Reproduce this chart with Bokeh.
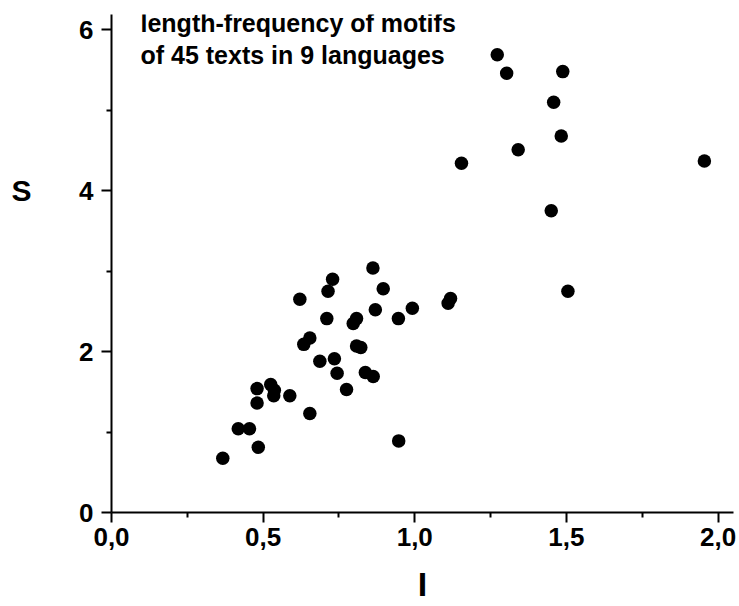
from bokeh.plotting import figure
from bokeh.models import FixedTicker, CustomJSTickFormatter, Label, ColumnDataSource, LinearAxis
from bokeh.embed import file_html
from bokeh.resources import INLINE

# Data (I, S)
I_vals = [0.367, 0.418, 0.455, 0.484, 0.480, 0.480, 0.525, 0.537, 0.535, 0.588,
          0.654, 0.744, 0.775, 0.837, 0.863, 0.947, 0.862, 0.729, 0.714, 0.621,
          0.896, 0.870, 0.992, 0.946, 0.710, 0.808, 0.797, 0.654, 0.634, 0.808,
          0.822, 0.687, 0.735, 1.118, 1.110, 1.272, 1.303, 1.488, 1.458, 1.483,
          1.341, 1.154, 1.450, 1.505, 1.955]
S_vals = [0.675, 1.04, 1.04, 0.81, 1.54, 1.36, 1.59, 1.52, 1.45, 1.45,
          1.23, 1.73, 1.53, 1.74, 1.69, 0.89, 3.04, 2.90, 2.75, 2.65,
          2.78, 2.52, 2.54, 2.41, 2.41, 2.41, 2.35, 2.17, 2.09, 2.07,
          2.05, 1.88, 1.91, 2.66, 2.60, 5.69, 5.46, 5.48, 5.10, 4.68,
          4.51, 4.34, 3.75, 2.75, 4.37]

x_ticks = [0.0, 0.5, 1.0, 1.5, 2.0]
x_minor = [0.25, 0.75, 1.25, 1.75]
y_ticks = [0, 2, 4, 6]
y_minor = [1, 3, 5]
title_lines = ["length-frequency of motifs", "of 45 texts in 9 languages"]
x_title = "I"
y_title = "S"
y_title_level = [4]

FONT = "Liberation Sans"

p = figure(width=739, height=606, output_backend="svg", toolbar_location=None,
           x_range=(0, 2.051), y_range=(0, 6.19),
           min_border_left=111, min_border_right=6, min_border_top=14, min_border_bottom=94)
p.outline_line_color = None
p.xgrid.visible = False
p.ygrid.visible = False
p.background_fill_color = "white"
p.border_fill_color = "white"

src = ColumnDataSource(dict(x=I_vals, y=S_vals))
p.scatter("x", "y", source=src, size=13.5, fill_color="black", line_color="black", line_width=0)

for ax in (p.xaxis[0], p.yaxis[0]):
    ax.axis_line_width = 2
    ax.axis_line_color = "black"
    ax.major_tick_line_width = 2
    ax.minor_tick_line_width = 2
    ax.major_tick_line_color = "black"
    ax.minor_tick_line_color = "black"
    ax.major_tick_out = 10
    ax.major_tick_in = 0
    ax.minor_tick_out = 5
    ax.minor_tick_in = 0
    ax.major_label_text_font = FONT
    ax.major_label_text_font_style = "bold"
    ax.major_label_text_font_size = "26px"
    ax.major_label_text_color = "black"
    ax.axis_label_text_font = FONT
    ax.axis_label_text_font_style = "bold"
    ax.axis_label_text_color = "black"

p.xaxis[0].ticker = FixedTicker(ticks=x_ticks, minor_ticks=x_minor)
p.xaxis[0].formatter = CustomJSTickFormatter(code="return tick.toFixed(1).replace('.', ',');")
p.xaxis[0].major_label_standoff = 5
p.xaxis[0].axis_label = x_title
p.xaxis[0].axis_label_text_font_size = "34px"
p.xaxis[0].axis_label_standoff = 16

p.yaxis[0].ticker = FixedTicker(ticks=y_ticks, minor_ticks=y_minor)
p.yaxis[0].major_label_standoff = 8
p.yaxis[0].major_label_orientation = "horizontal"

# y title sits level with the "4" tick: drawn by a bare extra left axis
s_axis = LinearAxis(ticker=FixedTicker(ticks=y_title_level, minor_ticks=[]),
                    formatter=CustomJSTickFormatter(code="return '%s';" % y_title),
                    axis_line_color=None, major_tick_line_color=None, minor_tick_line_color=None,
                    major_tick_out=0, major_tick_in=0, minor_tick_out=0, minor_tick_in=0,
                    major_label_standoff=45, major_label_orientation="horizontal",
                    major_label_text_font=FONT, major_label_text_font_style="bold",
                    major_label_text_font_size="30px", major_label_text_color="black")
p.add_layout(s_axis, "left")

for i, line in enumerate(title_lines):
    p.add_layout(Label(x=29, y=490 - 32 * i, x_units="screen", y_units="screen",
                       text=line, text_font=FONT, text_font_style="bold",
                       text_font_size="25px", text_color="black",
                       text_baseline="alphabetic", text_align="left"))

open("out.html", "w").write(file_html(p, INLINE))
